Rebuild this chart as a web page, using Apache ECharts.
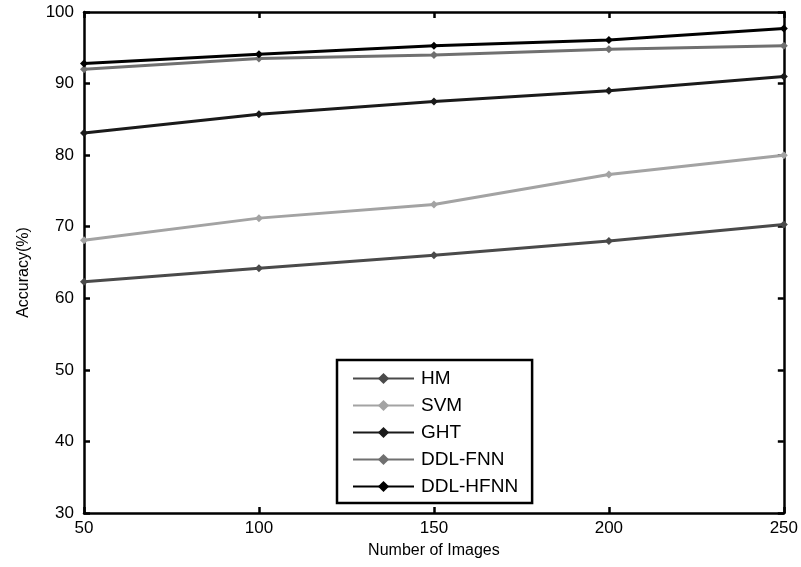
<!DOCTYPE html>
<html>
<head>
<meta charset="utf-8">
<script src="https://cdn.jsdelivr.net/npm/echarts@6/dist/echarts.min.js"></script>
<style>
html,body{margin:0;padding:0;background:#fff;}
#main{width:801px;height:567px;}
</style>
</head>
<body>
<div id="main"></div>
<script>
const numImages = [50, 100, 150, 200, 250];
const seriesNames = ['HM', 'SVM', 'GHT', 'DDL-FNN', 'DDL-HFNN'];
const hm = [62.3, 64.2, 66.0, 68.0, 70.3];
const svm = [68.1, 71.2, 73.1, 77.3, 80.0];
const ght = [83.1, 85.7, 87.5, 89.0, 91.0];
const ddlFnn = [92.0, 93.5, 94.0, 94.8, 95.3];
const ddlHfnn = [92.8, 94.1, 95.3, 96.1, 97.7];
const yTicks = [30, 40, 50, 60, 70, 80, 90, 100];

const colors = ['#4a4a4a', '#a3a3a3', '#1a1a1a', '#707070', '#000000'];
const dataSets = [hm, svm, ght, ddlFnn, ddlHfnn];
const font = 'Liberation Sans, Arial, Helvetica, sans-serif';

const chart = echarts.init(document.getElementById('main'));

const series = seriesNames.map((name, i) => ({
  name: name,
  type: 'line',
  data: numImages.map((x, j) => [x, dataSets[i][j]]),
  symbol: 'diamond',
  symbolSize: 8,
  showAllSymbol: true,
  lineStyle: { color: colors[i], width: 3 },
  itemStyle: { color: colors[i] },
  emphasis: { disabled: true },
  z: 3 + i
}));

const boxAxisLine = { show: true, lineStyle: { color: '#000', width: 2.5 } };
const innerTick = { show: true, inside: true, length: 6, lineStyle: { color: '#000', width: 2.5 } };

chart.setOption({
  animation: false,
  backgroundColor: '#fff',
  textStyle: { fontFamily: font },
  grid: { left: 84, right: 16, top: 12, bottom: 54, containLabel: false },
  legend: {
    data: seriesNames,
    orient: 'vertical',
    left: 337,
    top: 360,
    borderColor: '#000',
    borderWidth: 2.5,
    backgroundColor: '#fff',
    padding: [9, 14, 7, 15],
    itemWidth: 61,
    itemHeight: 14,
    itemGap: 8,
    textStyle: { fontSize: 19, color: '#000', fontFamily: font, lineHeight: 18, padding: [0, 0, 0, 2] },
    selectedMode: false
  },
  xAxis: [{
    type: 'value',
    min: 50, max: 250, interval: 50,
    name: 'Number of Images',
    nameLocation: 'middle',
    nameGap: 30,
    nameTextStyle: { fontSize: 16, color: '#000', fontFamily: font },
    axisLine: boxAxisLine,
    axisTick: innerTick,
    axisLabel: { fontSize: 17, color: '#000', margin: 7, fontFamily: font },
    splitLine: { show: false }
  }, {
    type: 'value',
    position: 'top',
    min: 50, max: 250, interval: 50,
    axisLine: boxAxisLine,
    axisTick: innerTick,
    axisLabel: { show: false },
    splitLine: { show: false }
  }],
  yAxis: [{
    type: 'value',
    min: yTicks[0], max: yTicks[yTicks.length - 1], interval: 10,
    name: 'Accuracy(%)',
    nameLocation: 'middle',
    nameGap: 52,
    nameTextStyle: { fontSize: 16, color: '#000', fontFamily: font, padding: [0, 20, 0, 0] },
    axisLine: boxAxisLine,
    axisTick: innerTick,
    axisLabel: { fontSize: 17, color: '#000', margin: 10, fontFamily: font },
    splitLine: { show: false }
  }, {
    type: 'value',
    position: 'right',
    min: yTicks[0], max: yTicks[yTicks.length - 1], interval: 10,
    axisLine: boxAxisLine,
    axisTick: innerTick,
    axisLabel: { show: false },
    splitLine: { show: false }
  }],
  series: series
});
</script>
</body>
</html>
